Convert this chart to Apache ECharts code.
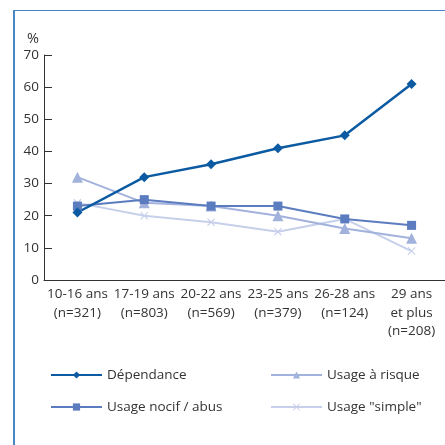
<!DOCTYPE html>
<html lang="fr">
<head>
    <meta charset="UTF-8">
    <title>Chart</title>
    <script src="https://cdn.jsdelivr.net/npm/echarts@6/dist/echarts.min.js"></script>
    <style>
        body { margin: 0; background: #fff; }
        #main { width: 445px; height: 445px; }
    </style>
</head>
<body>
    <div id="main"></div>
    <script type="text/javascript">
        // catégories d'âge
        var categories = ['10-16 ans\n(n=321)', '17-19 ans\n(n=803)', '20-22 ans\n(n=569)',
            '23-25 ans\n(n=379)', '26-28 ans\n(n=124)', '29 ans\net plus\n(n=208)'];
        var dependance = [21, 32, 36, 41, 45, 61];
        var usageNocif = [23, 25, 23, 23, 19, 17];
        var usageRisque = [32, 24, 23, 20, 16, 13];
        var usageSimple = [24, 20, 18, 15, 19, 9];

        var crossPath = 'path://M0,1L1,0L5,4L9,0L10,1L6,5L10,9L9,10L5,6L1,10L0,9L4,5Z';
        var font = 'Open Sans';

        var myChart = echarts.init(document.getElementById('main'));

        function makeSeries(name, data, color, symbol, size, width) {
            return {
                name: name,
                type: 'line',
                data: data,
                symbol: symbol,
                symbolSize: size,
                lineStyle: { color: color, width: width },
                itemStyle: { color: color },
                animation: false
            };
        }

        var legendText = { fontFamily: font, fontSize: 13.5, color: '#333' };

        var option = {
            title: {
                text: '%',
                left: 22,
                top: 26,
                textStyle: { fontFamily: font, fontSize: 14.5, fontWeight: 'normal', color: '#333' }
            },
            grid: { left: 44, top: 55, width: 404, bottom: 165 },
            legend: [
                {
                    data: ['Dépendance', 'Usage nocif / abus'],
                    orient: 'vertical',
                    left: 45, top: 363,
                    itemWidth: 51, itemHeight: 9, itemGap: 18,
                    textStyle: legendText
                },
                {
                    data: ['Usage à risque', 'Usage "simple"'],
                    orient: 'vertical',
                    left: 265, top: 363,
                    itemWidth: 51, itemHeight: 9, itemGap: 18,
                    textStyle: legendText
                }
            ],
            xAxis: {
                type: 'category',
                data: categories,
                boundaryGap: true,
                axisLine: { lineStyle: { color: '#333', width: 1 } },
                axisTick: { inside: true, length: 5, lineStyle: { color: '#333' } },
                axisLabel: {
                    fontFamily: font, fontSize: 13.5, color: '#333',
                    lineHeight: 18.5, margin: 5, interval: 0
                }
            },
            yAxis: {
                type: 'value',
                min: 0, max: 70, interval: 10,
                splitLine: { show: false },
                axisLine: { show: true, lineStyle: { color: '#333', width: 1 } },
                axisTick: { show: true, inside: true, length: 8, lineStyle: { color: '#333' } },
                axisLabel: { fontFamily: font, fontSize: 13.5, color: '#333', margin: 5 }
            },
            graphic: [
                { type: 'line', shape: { x1: 14, y1: 10, x2: 14, y2: 445 }, style: { stroke: '#4a86c5', lineWidth: 2 } },
                { type: 'line', shape: { x1: 13, y1: 10.5, x2: 445, y2: 10.5 }, style: { stroke: '#4a86c5', lineWidth: 1 } }
            ],
            series: [
                makeSeries('Usage "simple"', usageSimple, '#c6d0eb', crossPath, 8, 2),
                makeSeries('Usage à risque', usageRisque, '#a2b2dc', 'triangle', 11, 2),
                makeSeries('Usage nocif / abus', usageNocif, '#5b7cbf', 'rect', 9, 2),
                makeSeries('Dépendance', dependance, '#0b5aa2', 'diamond', 10, 2.5)
            ]
        };

        myChart.setOption(option);
    </script>
</body>
</html>
